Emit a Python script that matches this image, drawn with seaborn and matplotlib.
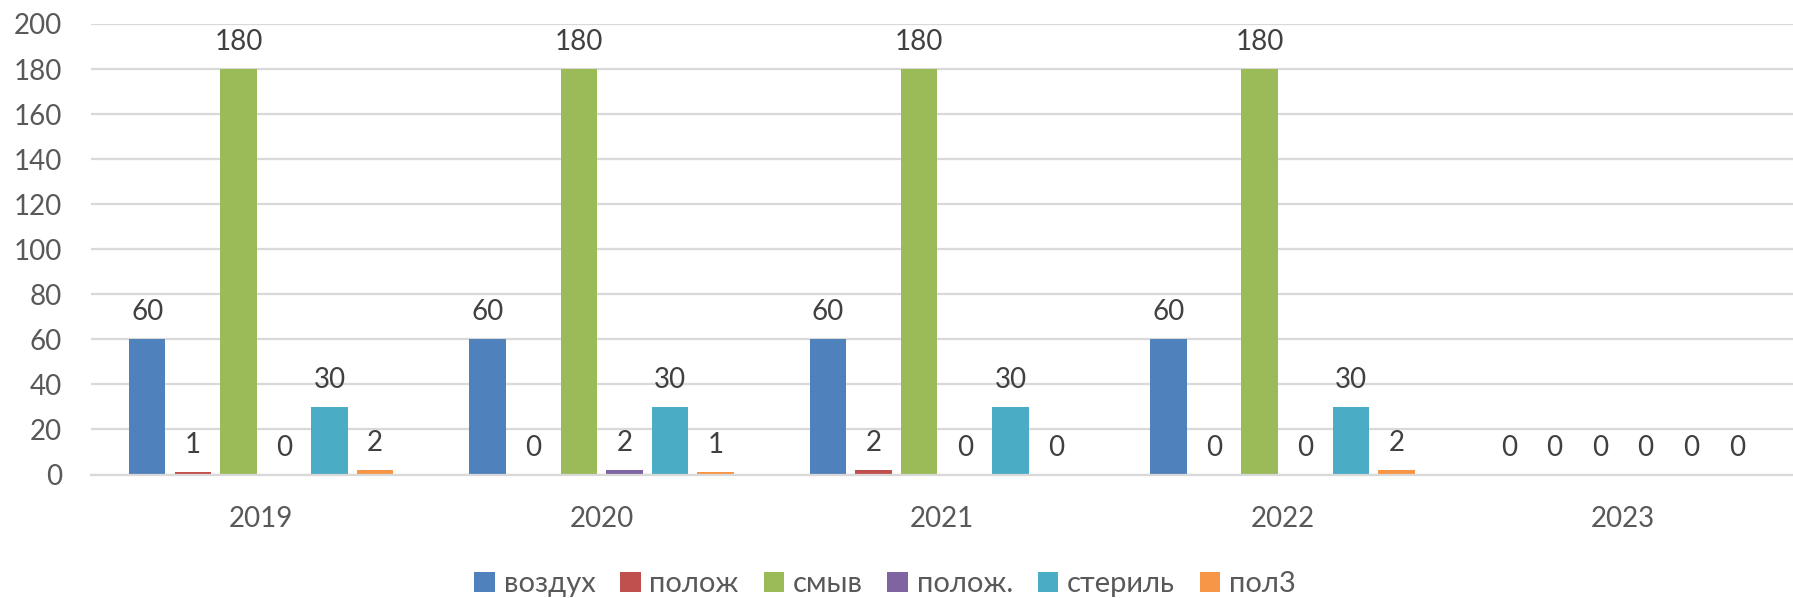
import matplotlib
matplotlib.use("Agg")
import matplotlib.pyplot as plt
import seaborn as sns
import pandas as pd

years = ["2019", "2020", "2021", "2022", "2023"]
series = ["воздух", "полож", "смыв", "полож.", "стериль", "пол3"]
vozduh = [60, 60, 60, 60, 0]
polozh = [1, 0, 2, 0, 0]
smyv = [180, 180, 180, 180, 0]
polozh2 = [0, 2, 0, 0, 0]
steril = [30, 30, 30, 30, 0]
pol3 = [2, 1, 0, 2, 0]
yticks = [0, 20, 40, 60, 80, 100, 120, 140, 160, 180, 200]
colors = ["#4F81BD", "#C0504D", "#9BBB59", "#8064A2", "#4BACC6", "#F79646"]

values = [vozduh, polozh, smyv, polozh2, steril, pol3]
rows = []
for s, vals in zip(series, values):
    for y, v in zip(years, vals):
        rows.append({"year": y, "series": s, "value": v})
df = pd.DataFrame(rows)

sns.set_theme(style="white")
plt.rcParams["font.family"] = ["Lato", "Open Sans", "DejaVu Sans"]

fig = plt.figure(figsize=(17.93, 5.98), dpi=100)
ax = fig.add_axes([91 / 1793, 1 - 474.5 / 598, 1 - 91 / 1793, (474.5 - 24) / 598])

sns.barplot(data=df, x="year", y="value", hue="series", order=years,
            hue_order=series, palette=colors, saturation=1, width=0.804,
            gap=0.2, linewidth=0, errorbar=None, ax=ax)

ax.set_ylim(0, 200)
ax.set_xlim(-0.5, 4.5)
ax.set_yticks(yticks)
ax.set_xlabel("")
ax.set_ylabel("")
ax.set_axisbelow(True)
ax.yaxis.grid(True, color="#D9D9D9", linewidth=1.6)
ax.xaxis.grid(False)
for side in ["top", "right", "left"]:
    ax.spines[side].set_visible(False)
ax.spines["bottom"].set_color("#D9D9D9")
ax.spines["bottom"].set_linewidth(1.6)
ax.tick_params(axis="y", length=0, pad=21, labelsize=20, labelcolor="#595959")
ax.tick_params(axis="x", length=0, pad=23, labelsize=20, labelcolor="#595959")

for cont in ax.containers:
    ax.bar_label(cont, fmt="%d", padding=10, fontsize=20, color="#404040")

handles, labels = ax.get_legend_handles_labels()
ax.get_legend().remove()
fig.legend(handles, labels, loc="center", bbox_to_anchor=(885 / 1793, 1 - 584 / 598),
           ncol=6, frameon=False, fontsize=21, labelcolor="#595959",
           handlelength=0.7, handleheight=0.7, handletextpad=0.3, columnspacing=0.85)

fig.savefig("out.png", dpi=100)
